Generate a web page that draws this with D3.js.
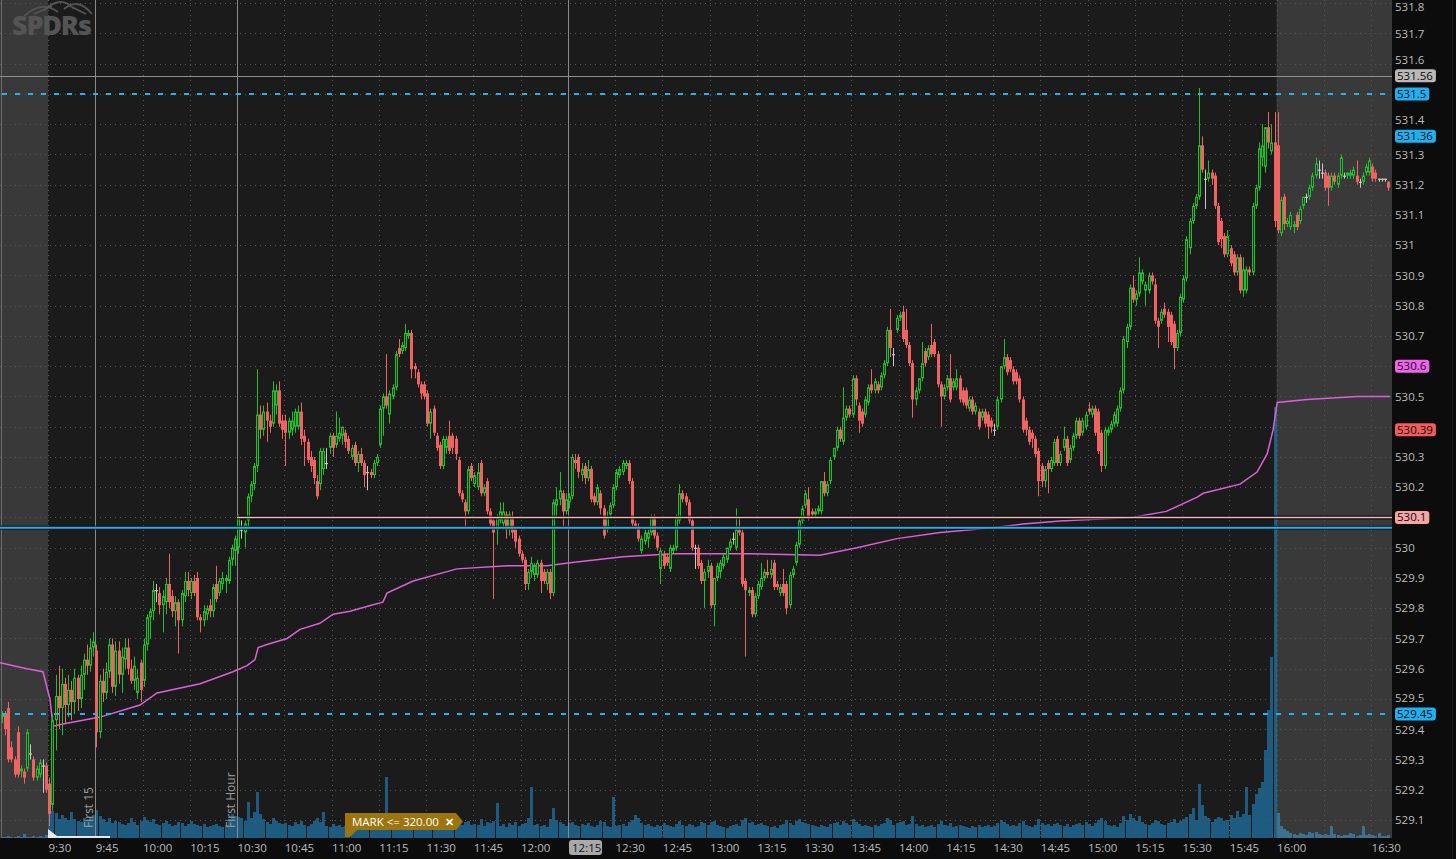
<!DOCTYPE html>
<html><head><meta charset="utf-8">
<script src="https://cdn.jsdelivr.net/npm/d3@7"></script>
<style>
html,body{margin:0;padding:0;background:#0c0c0c;overflow:hidden}
svg{display:block}
text{font-family:"Open Sans",sans-serif}
</style></head><body>
<svg id="c" width="1456" height="859"></svg>
<script>
// ---- DATA (1-minute bars, first bar = 9:15, minutes relative to 9:30) ----
const startMinute = -15;
const open = [
529.44,529.45,529.47,529.34,529.30,529.39,529.26,529.26,529.27,529.32,529.30,529.24,529.25,529.28,529.28,
529.22,529.15,529.43,529.51,529.47,529.55,529.48,529.53,529.49,529.57,529.50,529.58,529.63,529.61,529.67,
529.66,529.39,529.56,529.52,529.59,529.68,529.54,529.66,529.58,529.63,529.67,529.60,529.56,529.52,529.62,
529.56,529.68,529.77,529.79,529.86,529.85,529.81,529.82,529.88,529.84,529.79,529.82,529.76,529.84,529.89,
529.85,529.89,529.90,529.77,529.76,529.78,529.81,529.79,529.88,529.85,529.88,529.89,529.89,529.96,529.99,
530.00,530.06,530.05,530.09,530.17,530.21,530.27,530.44,530.39,530.45,530.42,530.41,530.47,530.52,530.42,
530.42,530.38,530.39,530.40,530.40,530.45,530.37,530.35,530.30,530.29,530.22,530.21,530.26,530.28,530.33,
530.37,530.34,530.36,530.37,530.38,530.36,530.30,530.34,530.28,530.31,530.28,530.25,530.25,530.24,530.28,
530.34,530.46,530.50,530.44,530.50,530.53,530.66,530.65,530.66,530.70,530.71,530.60,530.58,530.54,530.54,
530.51,530.41,530.46,530.37,530.34,530.27,530.33,530.37,530.37,530.36,530.29,530.18,530.15,530.12,530.27,
530.21,530.20,530.28,530.18,530.22,530.12,530.09,530.06,530.09,530.08,530.11,530.06,530.10,530.06,530.03,
529.98,529.96,529.88,529.92,529.91,529.91,529.95,529.92,529.88,529.92,529.85,530.14,530.16,530.18,530.12,
530.15,530.17,530.29,530.30,530.24,530.27,530.23,530.26,530.17,530.15,530.18,530.13,530.06,530.11,530.14,
530.20,530.24,530.25,530.27,530.28,530.22,530.08,530.07,529.99,530.02,530.03,530.05,530.10,530.04,529.93,
529.98,529.97,529.93,529.99,530.00,530.09,530.18,530.17,530.15,530.09,530.00,530.00,529.95,529.89,529.92,
529.94,529.81,529.90,529.92,529.94,529.96,530.00,530.03,530.00,530.06,530.05,529.89,529.85,529.86,529.78,
529.84,529.87,529.90,529.92,529.91,529.95,529.88,529.85,529.88,529.88,529.81,529.91,529.95,530.01,530.09,
530.14,530.16,530.12,530.11,530.12,530.12,530.22,530.18,530.22,530.30,530.33,530.39,530.35,530.43,530.46,
530.44,530.56,530.47,530.45,530.44,530.48,530.54,530.52,530.54,530.53,530.57,530.61,530.72,530.64,530.72,
530.76,530.78,530.72,530.67,530.61,530.49,530.52,530.56,530.65,530.63,530.67,530.68,530.64,530.54,530.50,
530.53,530.56,530.53,530.53,530.56,530.52,530.52,530.46,530.49,530.45,530.45,530.43,530.45,530.44,530.42,
530.39,530.40,530.49,530.60,530.63,530.62,530.59,530.58,530.56,530.49,530.42,530.39,530.38,530.36,530.32,
530.27,530.22,530.28,530.26,530.28,530.36,530.28,530.33,530.36,530.29,530.33,530.37,530.42,530.38,530.40,
530.46,530.44,530.46,530.45,530.38,530.27,530.38,530.39,530.41,530.41,530.46,530.52,530.68,530.73,530.86,
530.82,530.84,530.88,530.85,530.85,530.90,530.87,530.75,530.75,530.79,530.78,530.77,530.74,530.66,530.71,
530.82,530.89,530.99,531.08,531.13,531.16,531.33,531.22,531.22,531.24,531.23,531.13,531.08,531.03,530.97,
530.99,530.97,530.91,530.96,530.85,530.85,530.92,530.91,531.13,531.19,531.29,531.26,531.39,531.31,531.34,
531.33,531.04,531.16,531.07,531.06,531.06,531.10,531.08,531.13,531.16,531.16,531.19,531.23,531.25,531.24,
531.24,531.23,531.19,531.23,531.20,531.23,531.23,531.23,531.23,531.23,531.23,531.21,531.21,531.24,531.24,
531.26,531.24,531.22,531.22,531.22,531.21];
const high = [
529.46,529.46,529.49,529.36,529.31,529.41,529.28,529.27,529.40,529.35,529.31,529.28,529.30,529.30,529.29,
529.24,529.45,529.58,529.61,529.60,529.57,529.58,529.56,529.60,529.58,529.61,529.65,529.68,529.70,529.72,
529.68,529.58,529.60,529.62,529.70,529.70,529.69,529.69,529.67,529.70,529.70,529.63,529.64,529.60,529.63,
529.70,529.78,529.80,529.89,529.88,529.87,529.86,529.90,529.98,529.86,529.84,529.83,529.86,529.92,529.92,
529.90,529.91,529.92,529.78,529.81,529.81,529.83,529.88,529.94,529.90,529.92,529.91,529.97,530.01,530.04,
530.11,530.09,530.09,530.18,530.22,530.28,530.59,530.47,530.47,530.48,530.44,530.55,530.54,530.55,530.44,
530.44,530.43,530.45,530.46,530.47,530.48,530.39,530.36,530.32,530.30,530.24,530.33,530.33,530.33,530.38,
530.38,530.45,530.43,530.40,530.39,530.37,530.34,530.35,530.32,530.33,530.29,530.27,530.26,530.29,530.31,
530.47,530.51,530.64,530.52,530.54,530.65,530.69,530.68,530.74,530.72,530.72,530.61,530.59,530.55,530.55,
530.52,530.46,530.47,530.38,530.35,530.37,530.37,530.42,530.38,530.37,530.30,530.19,530.16,530.27,530.28,
530.25,530.28,530.29,530.21,530.23,530.13,530.10,530.11,530.15,530.15,530.12,530.12,530.12,530.07,530.04,
529.99,529.97,529.93,529.97,529.95,529.96,529.96,529.93,529.93,529.93,530.16,530.20,530.25,530.19,530.18,
530.18,530.31,530.31,530.31,530.28,530.28,530.29,530.27,530.18,530.21,530.19,530.14,530.12,530.15,530.21,
530.26,530.27,530.29,530.29,530.29,530.23,530.09,530.08,530.04,530.06,530.06,530.11,530.11,530.05,530.00,
529.99,529.98,530.01,530.01,530.11,530.21,530.19,530.18,530.16,530.10,530.01,530.01,529.96,529.93,529.96,
529.95,529.90,529.95,529.96,529.98,530.00,530.03,530.05,530.13,530.10,530.06,529.90,529.87,529.87,529.85,
529.89,529.95,529.93,529.96,529.96,529.96,529.89,529.88,529.93,529.89,529.92,529.94,530.02,530.10,530.14,
530.19,530.20,530.13,530.13,530.14,530.22,530.25,530.22,530.30,530.33,530.40,530.40,530.53,530.47,530.47,
530.57,530.57,530.48,530.46,530.50,530.54,530.59,530.56,530.55,530.58,530.62,530.73,530.79,530.66,530.77,
530.78,530.80,530.79,530.68,530.62,530.53,530.56,530.68,530.66,530.67,530.74,530.69,530.65,530.55,530.54,
530.57,530.64,530.56,530.59,530.57,530.53,530.53,530.50,530.50,530.48,530.46,530.46,530.46,530.45,530.43,
530.41,530.50,530.60,530.69,530.64,530.63,530.60,530.59,530.57,530.50,530.43,530.40,530.39,530.37,530.33,
530.28,530.27,530.29,530.30,530.36,530.37,530.32,530.40,530.37,530.34,530.38,530.43,530.43,530.43,530.45,
530.48,530.47,530.47,530.46,530.39,530.40,530.40,530.42,530.45,530.47,530.53,530.70,530.74,530.87,530.90,
530.85,530.96,530.92,530.88,530.91,530.91,530.89,530.76,530.79,530.81,530.79,530.78,530.75,530.72,530.84,
530.90,531.03,531.09,531.14,531.17,531.52,531.36,531.25,531.28,531.25,531.24,531.14,531.09,531.04,531.05,
531.00,530.98,530.97,530.97,530.96,530.93,530.93,531.14,531.20,531.34,531.40,531.39,531.44,531.40,531.44,
531.44,531.16,531.17,531.09,531.11,531.08,531.11,531.13,531.16,531.17,531.20,531.24,531.29,531.28,531.27,
531.25,531.24,531.24,531.24,531.24,531.30,531.24,531.24,531.25,531.26,531.28,531.22,531.24,531.27,531.29,
531.27,531.25,531.22,531.22,531.22,531.21];
const low = [
529.42,529.38,529.29,529.29,529.24,529.24,529.24,529.22,529.26,529.30,529.23,529.23,529.24,529.19,529.19,
529.08,529.13,529.33,529.40,529.38,529.42,529.44,529.43,529.45,529.46,529.47,529.53,529.58,529.59,529.64,
529.34,529.37,529.49,529.50,529.57,529.52,529.51,529.55,529.52,529.60,529.58,529.55,529.53,529.50,529.49,
529.54,529.66,529.70,529.76,529.82,529.78,529.72,529.78,529.80,529.77,529.74,529.65,529.74,529.82,529.84,
529.83,529.84,529.76,529.72,529.74,529.76,529.77,529.77,529.82,529.84,529.86,529.85,529.88,529.94,529.94,
529.98,530.03,530.00,530.07,530.15,530.19,530.25,530.36,530.37,530.35,530.38,530.40,530.44,530.40,530.36,
530.27,530.36,530.37,530.38,530.39,530.34,530.27,530.28,530.25,530.21,530.16,530.19,530.24,530.26,530.31,
530.30,530.33,530.35,530.34,530.33,530.31,530.29,530.27,530.25,530.27,530.20,530.19,530.23,530.23,530.27,
530.33,530.37,530.46,530.41,530.49,530.52,530.63,530.64,530.65,530.69,530.56,530.56,530.53,530.49,530.49,
530.40,530.36,530.37,530.32,530.26,530.26,530.31,530.31,530.31,530.29,530.17,530.15,530.07,530.11,530.22,
530.20,530.19,530.17,530.17,530.11,530.07,529.83,530.01,530.08,530.06,530.03,530.04,530.03,530.00,529.97,
529.95,529.86,529.86,529.90,529.89,529.90,529.85,529.88,529.86,529.83,529.84,530.10,530.14,530.07,530.11,
530.13,530.16,530.26,530.23,530.22,530.21,530.22,530.15,530.14,530.14,530.11,530.03,530.05,530.10,530.13,
530.19,530.23,530.24,530.26,530.21,530.07,530.06,530.02,529.98,530.01,530.00,530.04,530.03,529.99,529.88,
529.93,529.94,529.92,529.98,529.99,530.08,530.15,530.14,530.08,529.99,529.93,529.93,529.88,529.80,529.90,
529.80,529.74,529.89,529.90,529.93,529.95,529.99,530.01,529.99,530.04,529.87,529.64,529.84,529.77,529.77,
529.83,529.86,529.89,529.90,529.90,529.86,529.86,529.84,529.84,529.78,529.80,529.90,529.94,530.00,530.08,
530.13,530.09,530.10,530.10,530.11,530.11,530.17,530.17,530.21,530.29,530.32,530.35,530.34,530.42,530.43,
530.43,530.47,530.38,530.40,530.43,530.47,530.51,530.51,530.51,530.52,530.56,530.60,530.63,530.60,530.71,
530.75,530.68,530.66,530.60,530.43,530.47,530.51,530.55,530.60,530.62,530.63,530.63,530.53,530.40,530.49,
530.52,530.48,530.52,530.52,530.48,530.47,530.46,530.45,530.44,530.44,530.39,530.42,530.40,530.36,530.38,
530.37,530.39,530.48,530.59,530.57,530.58,530.54,530.54,530.48,530.38,530.37,530.34,530.33,530.30,530.17,
530.20,530.20,530.18,530.25,530.27,530.27,530.27,530.32,530.27,530.28,530.32,530.36,530.36,530.37,530.39,
530.44,530.43,530.37,530.31,530.25,530.26,530.37,530.38,530.40,530.40,530.45,530.51,530.66,530.72,530.81,
530.80,530.83,530.87,530.80,530.84,530.87,530.74,530.66,530.74,530.76,530.68,530.67,530.59,530.65,530.70,
530.81,530.88,530.97,531.07,531.12,531.15,531.24,531.12,531.21,531.20,531.12,531.00,530.99,530.96,530.96,
530.93,530.90,530.90,530.84,530.83,530.84,530.90,530.90,531.12,531.18,531.26,531.24,531.32,531.30,531.06,
531.04,531.03,531.05,531.06,531.05,531.04,531.05,531.07,531.12,531.14,531.15,531.18,531.22,531.22,531.22,
531.18,531.13,531.18,531.20,531.19,531.22,531.22,531.22,531.22,531.22,531.20,531.19,531.20,531.23,531.23,
531.21,531.21,531.21,531.21,531.21,531.18];
const close = [
529.45,529.40,529.30,529.30,529.25,529.25,529.27,529.24,529.39,529.32,529.24,529.27,529.29,529.28,529.20,
529.12,529.43,529.51,529.47,529.55,529.48,529.53,529.49,529.57,529.50,529.58,529.63,529.61,529.67,529.69,
529.39,529.56,529.52,529.59,529.68,529.54,529.66,529.58,529.64,529.67,529.60,529.56,529.61,529.57,529.53,
529.68,529.77,529.79,529.86,529.86,529.81,529.84,529.88,529.82,529.79,529.82,529.76,529.85,529.89,529.86,
529.89,529.85,529.77,529.76,529.79,529.80,529.79,529.87,529.83,529.89,529.90,529.90,529.96,530.00,530.03,
530.10,530.06,530.08,530.17,530.21,530.27,530.44,530.39,530.45,530.42,530.40,530.52,530.52,530.41,530.39,
530.38,530.42,530.42,530.45,530.45,530.36,530.35,530.29,530.27,530.23,530.17,530.32,530.32,530.28,530.37,
530.33,530.37,530.38,530.40,530.35,530.32,530.33,530.28,530.31,530.28,530.24,530.25,530.24,530.28,530.30,
530.46,530.50,530.47,530.51,530.53,530.64,530.64,530.67,530.71,530.71,530.59,530.59,530.54,530.51,530.50,
530.41,530.45,530.38,530.33,530.27,530.36,530.36,530.32,530.33,530.31,530.18,530.16,530.12,530.26,530.23,
530.24,530.25,530.18,530.20,530.12,530.08,530.05,530.10,530.12,530.12,530.06,530.11,530.05,530.02,529.98,
529.96,529.88,529.92,529.95,529.94,529.95,529.89,529.89,529.92,529.85,530.15,530.16,530.19,530.12,530.16,
530.17,530.30,530.28,530.25,530.26,530.23,530.26,530.16,530.15,530.20,530.13,530.04,530.10,530.14,530.20,
530.25,530.26,530.28,530.28,530.22,530.08,530.07,530.03,530.03,530.05,530.05,530.10,530.04,530.00,529.99,
529.94,529.95,530.00,530.00,530.10,530.18,530.16,530.15,530.09,530.00,530.00,529.94,529.89,529.92,529.94,
529.81,529.90,529.94,529.95,529.97,530.00,530.02,530.03,530.06,530.05,529.88,529.86,529.86,529.78,529.84,
529.88,529.90,529.92,529.91,529.93,529.87,529.87,529.87,529.85,529.80,529.91,529.93,530.01,530.09,530.13,
530.18,530.10,530.11,530.12,530.13,530.22,530.18,530.21,530.29,530.33,530.39,530.36,530.43,530.46,530.44,
530.56,530.49,530.42,530.41,530.49,530.53,530.52,530.55,530.52,530.57,530.61,530.72,530.66,530.64,530.76,
530.77,530.69,530.67,530.61,530.49,530.52,530.56,530.61,530.61,530.66,530.64,530.64,530.54,530.50,530.53,
530.56,530.49,530.55,530.56,530.49,530.48,530.47,530.49,530.45,530.47,530.40,530.45,530.41,530.40,530.40,
530.39,530.49,530.60,530.63,530.58,530.59,530.55,530.55,530.49,530.39,530.39,530.35,530.36,530.31,530.22,
530.22,530.26,530.26,530.29,530.35,530.28,530.31,530.36,530.28,530.33,530.37,530.42,530.37,530.42,530.44,
530.45,530.46,530.38,530.32,530.27,530.39,530.39,530.41,530.44,530.46,530.52,530.69,530.73,530.86,530.82,
530.84,530.91,530.91,530.87,530.90,530.88,530.75,530.73,530.78,530.77,530.73,530.68,530.66,530.71,530.83,
530.89,531.02,531.08,531.13,531.16,531.33,531.25,531.22,531.24,531.22,531.13,531.01,531.02,530.97,531.03,
530.94,530.91,530.96,530.85,530.92,530.92,530.91,531.13,531.19,531.32,531.33,531.39,531.34,531.34,531.08,
531.05,531.15,531.07,531.08,531.10,531.07,531.06,531.12,531.16,531.16,531.19,531.23,531.27,531.25,531.24,
531.19,531.19,531.23,531.21,531.23,531.29,531.23,531.24,531.24,531.25,531.21,531.21,531.23,531.26,531.28,
531.22,531.22,531.22,531.22,531.22,531.19];
// volume in thousands of shares
const volume = [
10,10,20,10,10,20,10,40,10,10,20,10,20,10,30,
320,270,250,190,230,200,180,260,190,170,160,200,180,210,230,
280,220,190,160,200,150,170,160,140,130,150,200,160,130,170,
210,180,160,190,140,130,150,170,140,120,130,160,150,120,140,
170,140,130,120,140,110,120,130,140,120,110,130,190,240,220,
210,200,170,360,200,260,460,240,190,160,140,200,170,150,140,
150,130,120,160,140,170,130,120,140,170,200,160,260,120,110,
140,120,130,110,120,140,100,110,160,130,120,110,100,130,140,
190,170,610,160,150,200,180,160,230,170,200,150,140,130,120,
160,140,150,120,130,140,120,110,100,120,150,130,160,170,130,
140,130,190,120,160,150,170,350,120,140,110,150,130,160,120,
140,150,200,510,130,140,120,130,110,190,300,180,160,140,120,
150,160,130,120,140,130,150,120,110,130,170,160,120,110,410,
120,130,140,120,160,180,230,200,150,130,140,120,110,130,120,
150,130,120,110,140,170,130,120,140,130,110,120,160,150,130,
160,170,130,120,110,100,120,130,140,120,180,200,150,160,130,
140,150,130,120,110,120,100,130,140,180,150,130,170,190,160,
150,140,130,120,110,130,120,110,140,150,160,130,170,150,130,
190,160,140,120,130,120,110,130,120,140,150,200,180,130,150,
160,170,130,140,220,140,120,130,110,120,130,110,140,170,130,
120,150,110,120,130,120,110,100,120,110,130,110,120,130,110,
120,150,180,160,140,120,130,120,150,170,130,120,110,130,190,
150,130,140,120,140,150,130,120,140,110,130,140,150,130,160,
140,120,150,180,200,170,130,120,130,110,150,220,180,240,200,
170,220,160,140,130,150,180,170,140,130,150,160,190,150,170,
190,210,240,300,180,540,330,220,200,160,190,210,200,170,180,
230,200,270,210,240,510,230,340,440,500,560,880,1280,1810,4310,
250,120,90,70,50,40,30,50,40,30,60,50,60,40,30,
40,30,120,40,30,20,30,30,50,40,20,30,120,30,40,
30,20,50,20,20,30];
// VWAP study, read at turning points (minute, price)
const vwapMinute = [-15.2,-6.7,-1.6,0.6,1.6,6,16.5,29.2,34.6,48.3,58.7,63.2,65.7,66.7,69.5,75.9,80,86.3,90.5,95.9,102.6,106.3,107.6,115.9,129.8,145.7,158.4,165.7,182.5,198.4,207,222.9,245,256.8,269.5,283.2,299.1,309.5,321.3,334,344,355,364.8,366.7,378.4,383.8,387,388.9,390.2,399.7,415.6,426];
const vwapPrice  = [529.62,529.60,529.59,529.50,529.41,529.42,529.44,529.48,529.52,529.55,529.59,529.61,529.63,529.67,529.68,529.70,529.73,529.75,529.78,529.79,529.81,529.82,529.85,529.89,529.93,529.94,529.94,529.95,529.97,529.98,529.98,529.98,529.975,530.00,530.03,530.05,530.065,530.078,530.088,530.095,530.10,530.12,530.167,530.18,530.21,530.25,530.31,530.39,530.48,530.49,530.50,530.50];

const priceTicks = [529.1,529.2,529.3,529.4,529.5,529.6,529.7,529.8,529.9,530,530.1,530.2,530.3,530.4,530.5,530.6,530.7,530.8,530.9,531,531.1,531.2,531.3,531.4,531.5,531.6,531.7,531.8];
const gridMinutes = [-15,0,15,30,45,60,75,90,105,120,135,150,165,180,195,210,225,240,255,270,285,300,315,330,345,360,375,390,405,420];
const timeLabelMinutes = [0,15,30,45,60,75,90,105,120,135,150,180,195,210,225,240,255,270,285,300,315,330,345,360,375,390,420];
const timeLabels = ["9:30","9:45","10:00","10:15","10:30","10:45","11:00","11:15","11:30","11:45","12:00","12:30","12:45","13:00","13:15","13:30","13:45","14:00","14:15","14:30","14:45","15:00","15:15","15:30","15:45","16:00","16:30"];
const cursorMinute = 165, cursorLabel = "12:15";
const markerMinutes = [15, 60];
const markerLabels = ["First 15", "First Hour"];
const levelPrices = [531.56, 531.5, 530.1, 530.066, 529.45];
const badgePrices = [531.56, 531.5, 531.36, 530.6, 530.39, 530.1, 529.45];
const badgeLabels = ["531.56","531.5","531.36","530.6","530.39","530.1","529.45"];
const badgeColors = ["#b9b9b9","#1eb1f2","#1eb1f2","#f064f0","#f25c5c","#f6a4a4","#1eb1f2"];
const sessionOpenMinute = 0, sessionCloseMinute = 390;

// ---- LAYOUT ----
const W = 1456, H = 859, PR = 1392, PB = 838;
const xs = d3.scaleLinear().domain([-15.24, 426]).range([0, 1390]);
const ys = d3.scaleLinear().domain([529, 532]).range([850.2, -57.3]);
const yv = d3.scaleLinear().domain([0, 4500]).range([PB, PB - 450]);

const svg = d3.select("#c");
svg.append("rect").attr("width", W).attr("height", H).attr("fill", "#0c0c0c");
const defs = svg.append("defs");
defs.append("clipPath").attr("id", "plot").append("rect").attr("x", 0).attr("y", 0).attr("width", PR).attr("height", PB);
const g = svg.append("g").attr("clip-path", "url(#plot)");
g.append("rect").attr("width", PR).attr("height", PB).attr("fill", "#1b1b1b");

const bars = open.map((o, i) => ({m: startMinute + i, o, h: high[i], l: low[i], c: close[i], v: volume[i]}));
const bx = m => Math.round(xs(m) + 0.2);

// volume
g.append("g").selectAll("rect").data(bars).join("rect")
  .attr("x", d => bx(d.m)).attr("width", 3)
  .attr("y", d => yv(d.v)).attr("height", d => PB - yv(d.v))
  .attr("fill", "#1d5c80");

// session shading overlays
g.append("rect").attr("x", 0).attr("y", 0).attr("width", xs(sessionOpenMinute)).attr("height", PB).attr("fill", "rgba(255,255,255,0.135)");
g.append("rect").attr("x", xs(sessionCloseMinute)).attr("y", 0).attr("width", PR - xs(sessionCloseMinute)).attr("height", PB).attr("fill", "rgba(255,255,255,0.135)");

// watermark
const wm = g.append("g").attr("fill", "none").attr("stroke", "#545454").attr("stroke-width", 1.8);
wm.append("path").attr("d", "M24,16 Q42,0 58,12 M44,11 Q60,-6 74,9 M64,9 Q78,-3 92,14 M34,14 L52,6 M70,6 L86,14");
g.append("text").attr("x", 12).attr("y", 35).attr("font-size", 27).attr("font-weight", 800)
  .attr("fill", "#545454").attr("letter-spacing", -1.2).text("SPDRs");

// grid
g.append("g").selectAll("line").data(priceTicks).join("line")
  .attr("x1", 0).attr("x2", PR).attr("y1", d => Math.round(ys(d)) + 0.5).attr("y2", d => Math.round(ys(d)) + 0.5)
  .attr("stroke", "#575757").attr("stroke-dasharray", "1,4");
g.append("g").selectAll("line").data(gridMinutes).join("line")
  .attr("y1", 0).attr("y2", PB).attr("x1", d => Math.round(xs(d)) + 0.5).attr("x2", d => Math.round(xs(d)) + 0.5)
  .attr("stroke", "#575757").attr("stroke-dasharray", "1,4");

// solid vertical lines
g.append("line").attr("x1", 1.5).attr("x2", 1.5).attr("y1", 0).attr("y2", PB).attr("stroke", "#6c6c6c");
g.append("g").selectAll("line").data(markerMinutes.concat([cursorMinute])).join("line")
  .attr("x1", d => Math.round(xs(d)) + 0.5).attr("x2", d => Math.round(xs(d)) + 0.5).attr("y1", 0).attr("y2", PB)
  .attr("stroke", "#8a8a8a").attr("stroke-width", 1);
g.append("g").selectAll("text").data(markerMinutes).join("text")
  .attr("transform", (d) => `translate(${Math.round(xs(d)) - 2},828) rotate(-90)`)
  .attr("font-size", 12).attr("fill", "#9c9c9c").text((d, i) => markerLabels[i]);

// VWAP
const vw = vwapMinute.map((m, i) => [m, vwapPrice[i]]);
g.append("path").datum(vw).attr("fill", "none").attr("stroke", "#dc5fdc").attr("stroke-width", 1.5)
  .attr("d", d3.line().x(d => xs(d[0])).y(d => ys(d[1])));

// candles
const up = "#20bf2c", dn = "#f06363", flat = "#c8c8c8";
const col = d => d.c > d.o ? up : (d.c < d.o ? dn : flat);
const cg = g.append("g");
cg.selectAll("line").data(bars).join("line")
  .attr("x1", d => bx(d.m) + 1.5).attr("x2", d => bx(d.m) + 1.5)
  .attr("y1", d => ys(d.h)).attr("y2", d => Math.max(ys(d.l), ys(d.h) + 1))
  .attr("stroke", col).attr("stroke-width", 1);
cg.selectAll("rect.dn").data(bars.filter(d => d.c <= d.o)).join("rect").attr("class", "dn")
  .attr("x", d => bx(d.m)).attr("width", 3)
  .attr("y", d => ys(d.o)).attr("height", d => Math.max(1.2, ys(d.c) - ys(d.o)))
  .attr("fill", col);
cg.selectAll("rect.up").data(bars.filter(d => d.c > d.o)).join("rect").attr("class", "up")
  .attr("x", d => bx(d.m) + 0.5).attr("width", 2)
  .attr("y", d => ys(d.c) + 0.5).attr("height", d => Math.max(0.5, ys(d.o) - ys(d.c) - 1))
  .attr("fill", "#173a19").attr("stroke", up).attr("stroke-width", 1);

// horizontal levels
const lv = g.append("g");
lv.append("line").attr("x1", 0).attr("x2", PR).attr("y1", Math.round(ys(levelPrices[0])) + 0.5).attr("y2", Math.round(ys(levelPrices[0])) + 0.5)
  .attr("stroke", "#8e8e8e");
[levelPrices[1], levelPrices[4]].forEach(p => {
  lv.append("line").attr("x1", 0).attr("x2", PR).attr("y1", Math.round(ys(p))).attr("y2", Math.round(ys(p)))
    .attr("stroke", "#1fb4f0").attr("stroke-width", 2).attr("stroke-dasharray", "5,8").attr("stroke-dashoffset", -2);
});
lv.append("line").attr("x1", xs(60)).attr("x2", PR).attr("y1", ys(levelPrices[2])).attr("y2", ys(levelPrices[2]))
  .attr("stroke", "#000").attr("stroke-opacity", 0.7).attr("stroke-width", 4);
lv.append("line").attr("x1", xs(60)).attr("x2", PR).attr("y1", ys(levelPrices[2])).attr("y2", ys(levelPrices[2]))
  .attr("stroke", "#e9b7b7").attr("stroke-width", 1.5);
lv.append("line").attr("x1", 0).attr("x2", PR).attr("y1", ys(levelPrices[3])).attr("y2", ys(levelPrices[3]))
  .attr("stroke", "#000").attr("stroke-opacity", 0.7).attr("stroke-width", 4);
lv.append("line").attr("x1", 0).attr("x2", PR).attr("y1", ys(levelPrices[3])).attr("y2", ys(levelPrices[3]))
  .attr("stroke", "#1fb4f0").attr("stroke-width", 2);

// MARK alert tag
const mk = svg.append("g");
mk.append("path").attr("d", "M345,813 L456,813 L463,821.5 L456,830 L357,830 L350,837 L345,837 Z").attr("fill", "#9c7510");
mk.append("text").attr("x", 352).attr("y", 826).attr("font-size", 11.5).attr("fill", "#ffffff").text("MARK <= 320.00");
mk.append("text").attr("x", 445).attr("y", 826).attr("font-size", 11).attr("font-weight", 700).attr("fill", "#ffffff").text("✕");
// order pointer
svg.append("path").attr("d", "M48,829 L57,836 L110,836 L110,838 L48,838 Z").attr("fill", "#e8e8e8");

// axes (tick labels fully covered by a badge are not drawn, as in the reference)
const shownTicks = priceTicks.filter(p => !badgePrices.some(b => Math.abs(ys(b) - ys(p)) < 5));
const ya = d3.axisRight(ys).tickValues(shownTicks).tickSize(0).tickPadding(3).tickFormat(d3.format(""));
const yag = svg.append("g").attr("transform", `translate(${PR},0)`).call(ya);
yag.select(".domain").remove();
yag.selectAll("text").attr("fill", "#bcbcbc").attr("font-size", 11.5).attr("font-family", "Open Sans, sans-serif");
// nudge labels that sit right next to a badge, and keep the top label inside the window
yag.selectAll(".tick").each(function(p) {
  const t = d3.select(this).select("text");
  const near = badgePrices.map(b => ys(b) - ys(p)).filter(d => Math.abs(d) < 16);
  let dy = 0;
  if (near.length) dy = near[0] > 0 ? -(16 - near[0]) : (16 + near[0]);
  if (ys(p) + dy < 7) dy = 7 - ys(p);
  t.attr("y", dy);
});

const xa = d3.axisBottom(xs).tickValues(timeLabelMinutes).tickSize(0).tickPadding(0)
  .tickFormat((d, i) => timeLabels[i]);
const xag = svg.append("g").attr("transform", `translate(0,${PB})`).call(xa);
xag.select(".domain").remove();
xag.selectAll("text").attr("fill", "#bcbcbc").attr("font-size", 11.5).attr("font-family", "Open Sans, sans-serif")
  .attr("text-anchor", "start").attr("dy", null).attr("y", 14);

// cursor time badge
const cx0 = Math.round(xs(cursorMinute)) + 1;
svg.append("rect").attr("x", cx0).attr("y", 840).attr("width", 33).attr("height", 15).attr("rx", 3).attr("fill", "#a9a9a9");
svg.append("text").attr("x", cx0 + 3).attr("y", 852).attr("font-size", 11.5).attr("fill", "#111").text(cursorLabel);

// price badges
const bg = svg.append("g");
badgePrices.forEach((p, i) => {
  const y = ys(p);
  const t = bg.append("text").attr("x", 1397).attr("y", y + 4).attr("font-size", 11.5).attr("fill", "#0d0d0d").text(badgeLabels[i]);
  const w = t.node().getComputedTextLength();
  bg.insert("rect", "text").attr("x", 1395).attr("y", y - 6.5).attr("width", w + 5).attr("height", 13).attr("rx", 3).attr("fill", badgeColors[i]);
});
svg.append("line").attr("x1", 1452.5).attr("x2", 1452.5).attr("y1", 0).attr("y2", H).attr("stroke", "#1e1e1e");
</script>
</body></html>
